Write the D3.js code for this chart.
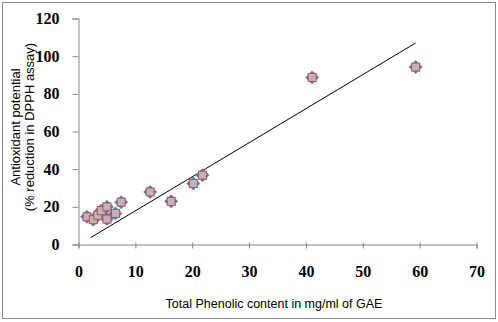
<!DOCTYPE html>
<html><head><meta charset="utf-8">
<script src="https://cdn.jsdelivr.net/npm/d3@7"></script>
<style>body{margin:0;background:#fff}svg{display:block}</style>
</head><body>
<script>
const phenolic = [1.5, 2.6, 3.4, 4.0, 5.0, 5.0, 6.5, 7.5, 12.6, 16.3, 20.2, 21.8, 41.1, 59.3];
const antioxidant = [14.7, 13.2, 15.5, 18.0, 20.0, 13.5, 16.5, 22.5, 27.9, 22.9, 32.4, 36.8, 88.7, 94.2];
const trendX = [2.1, 59.3];
const trendY = [3.6, 107.0];
const xTicks = [0, 10, 20, 30, 40, 50, 60, 70];
const yTicks = [0, 20, 40, 60, 80, 100, 120];
const xTitle = "Total Phenolic content in mg/ml of GAE";
const yTitle = ["Antioxidant potential", "(% reduction in DPPH assay)"];

const W = 498, H = 322;
const svg = d3.select("body").append("svg").attr("width", W).attr("height", H);
svg.append("rect").attr("x", 2.5).attr("y", 2.5).attr("width", 493).attr("height", 316)
  .attr("fill", "#fff").attr("stroke", "#8c8c8c");

const x = d3.scaleLinear().domain([0, 70]).range([78.5, 476.5]);
const y = d3.scaleLinear().domain([0, 120]).range([244.5, 18.5]);

const axisColor = "#868686";
const xAxis = svg.append("g").attr("transform", `translate(0,${y(0)})`)
  .call(d3.axisBottom(x).tickValues(xTicks).tickSize(4).tickPadding(17));
const yAxis = svg.append("g").attr("transform", `translate(${x(0)},0)`)
  .call(d3.axisLeft(y).tickValues(yTicks).tickSize(6).tickPadding(13));
[xAxis, yAxis].forEach(g => {
  g.select(".domain").attr("stroke", axisColor);
  g.selectAll(".tick line").attr("stroke", axisColor);
  g.selectAll("text").attr("font-family", "'Liberation Serif', serif").attr("font-weight", "bold")
    .attr("font-size", 16).attr("fill", "#000");
});
xAxis.selectAll(".tick line").attr("y1", -2);

const pts = phenolic.map((v, i) => ({x: v, y: antioxidant[i]}));
svg.append("line")
  .attr("x1", x(trendX[0])).attr("y1", y(trendY[0]))
  .attr("x2", x(trendX[1])).attr("y2", y(trendY[1]))
  .attr("stroke", "#000").attr("stroke-width", 1);

svg.append("g").selectAll("path").data(pts).join("path")
  .attr("transform", d => `translate(${x(d.x)},${y(d.y)})`)
  .attr("d", "M0,-6.5L6.5,0L0,6.5L-6.5,0Z")
  .attr("fill", "#4F6FB8").attr("stroke", "#6a7fc0").attr("stroke-width", 0.8);
svg.append("g").selectAll("rect").data(pts).join("rect")
  .attr("x", d => x(d.x) - 4).attr("y", d => y(d.y) - 4)
  .attr("width", 8).attr("height", 8)
  .attr("fill", "#BDB3BC").attr("stroke", "#C0504D").attr("stroke-width", 1);

const narrow = "'Liberation Sans Narrow', 'Arial Narrow', sans-serif";
svg.append("text").attr("x", 274).attr("y", 308)
  .attr("text-anchor", "middle").attr("font-family", narrow)
  .attr("font-size", 12.5).text(xTitle);
const yt = svg.append("text").attr("transform", "translate(0,127) rotate(-90)")
  .attr("text-anchor", "middle").attr("font-family", narrow)
  .attr("font-size", 13);
yt.append("tspan").attr("x", 0).attr("y", 20).text(yTitle[0]);
yt.append("tspan").attr("x", 0).attr("y", 34).text(yTitle[1]);
</script>
</body></html>
